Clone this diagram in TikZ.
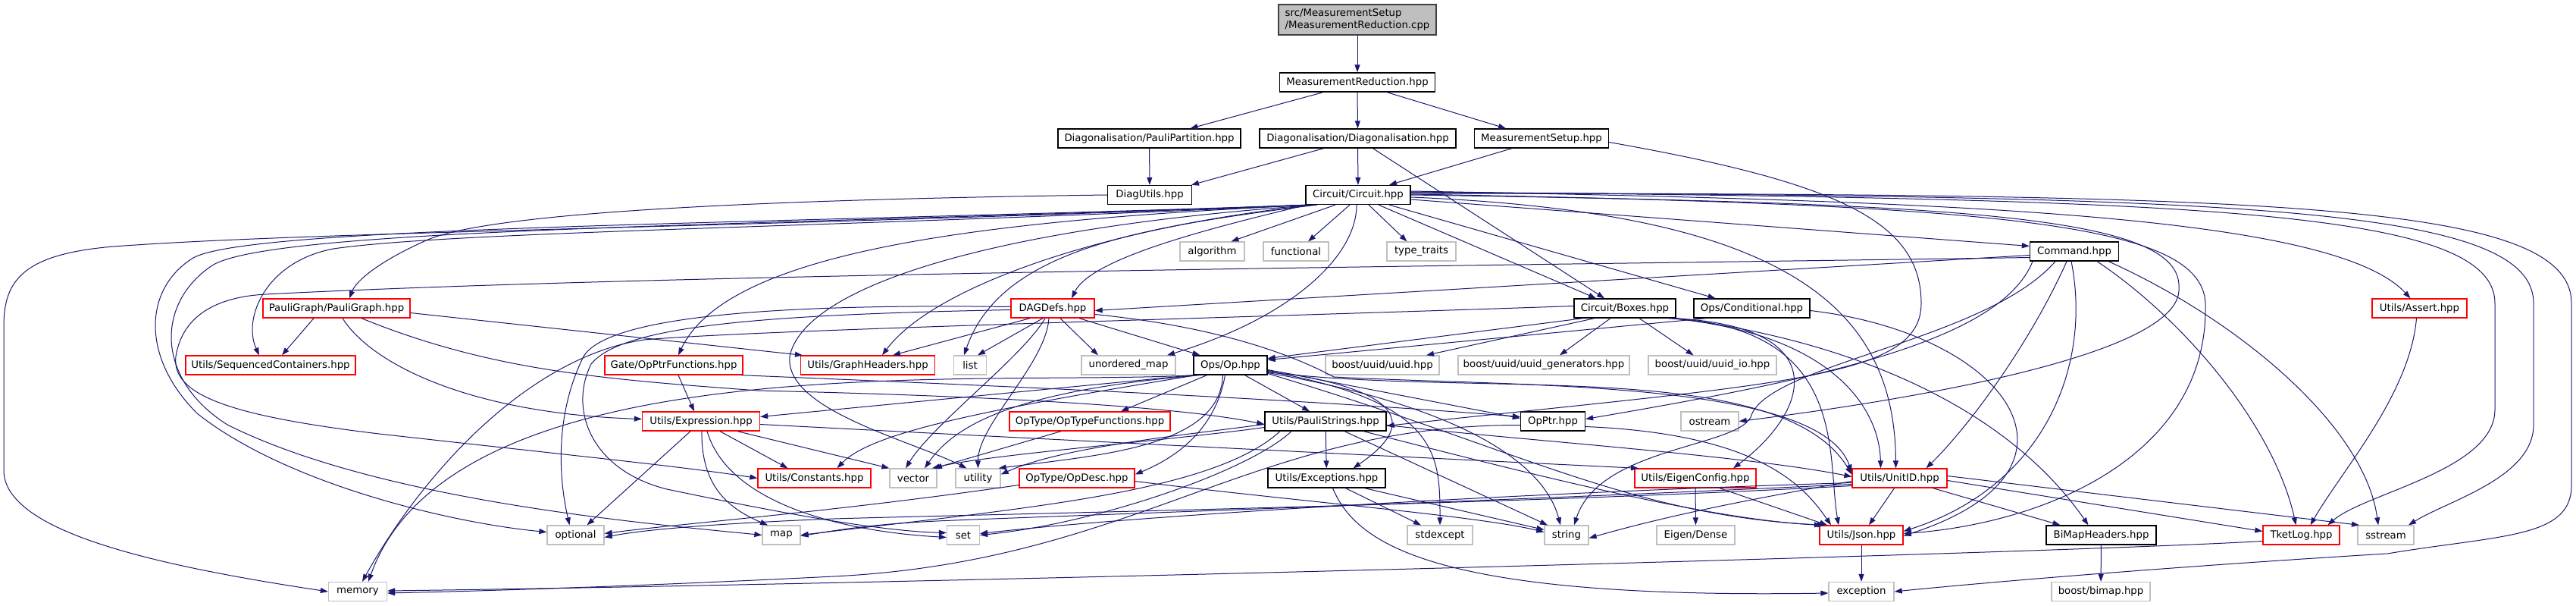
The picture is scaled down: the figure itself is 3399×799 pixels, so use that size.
\documentclass[tikz,border=0pt]{standalone}
\usepackage{fontspec}
\setmainfont{DejaVu Sans}
\usetikzlibrary{arrows.meta}
\definecolor{edgec}{HTML}{191970}
\definecolor{gryb}{HTML}{BFBFBF}
\definecolor{rootb}{HTML}{404040}
\definecolor{redb}{HTML}{FF0000}
\tikzset{
 box/.style={rectangle, inner sep=0pt, minimum height=25pt, font=\fontsize{13.3}{16}\selectfont, line width=1.3pt},
 nb/.style={box, draw=black},
 nr/.style={box, draw=redb},
 ng/.style={box, draw=gryb},
 rootbox/.style={box, draw=rootb, fill=gryb, minimum height=40pt, align=left},
 dep/.style={draw=edgec, line width=1pt, -{Triangle[length=10pt,width=7pt]}},
}
\begin{document}
\begin{tikzpicture}[x=1pt,y=-1pt]
\useasboundingbox (0,0) rectangle (3399,799);
\fill[white] (0,0) rectangle (3399,799);
% ---------- nodes ----------
\node[rootbox, minimum width=208pt] (root) at (1791,26) {src/MeasurementSetup\\/MeasurementReduction.cpp};
\node[nb, minimum width=205pt] (MR) at (1791,108.5) {MeasurementReduction.hpp};
\node[nb, minimum width=241pt] (PP) at (1516.5,182.5) {Diagonalisation/PauliPartition.hpp};
\node[nb, minimum width=259pt] (Diag) at (1791.5,182.5) {Diagonalisation/Diagonalisation.hpp};
\node[nb, minimum width=177pt] (MS) at (2034,182.5) {MeasurementSetup.hpp};
\node[nb, minimum width=111pt] (DU) at (1517,257) {DiagUtils.hpp};
\node[nb, minimum width=138pt] (C) at (1792,257) {Circuit/Circuit.hpp};
\node[ng, minimum width=85pt] (algorithm) at (1599.5,331.5) {algorithm};
\node[ng, minimum width=86pt] (functional) at (1710,331.5) {functional};
\node[ng, minimum width=91pt] (typetraits) at (1875.5,331.5) {type\_traits};
\node[nb, minimum width=117pt] (Cmd) at (2737,331.5) {Command.hpp};
\node[nr, minimum width=110pt] (DAG) at (1389,406.5) {DAGDefs.hpp};
\node[nr, minimum width=194pt] (PG) at (444,406.5) {PauliGraph/PauliGraph.hpp};
\node[nb, minimum width=134pt] (Boxes) at (2144,406.5) {Circuit/Boxes.hpp};
\node[nb, minimum width=153pt] (Cond) at (2311.5,406.5) {Ops/Conditional.hpp};
\node[nr, minimum width=125pt] (Assert) at (3192.5,406.5) {Utils/Assert.hpp};
\node[nr, minimum width=224pt] (SeqCont) at (357,481.5) {Utils/SequencedContainers.hpp};
\node[nr, minimum width=182pt] (OpPF) at (889,481.5) {Gate/OpPtrFunctions.hpp};
\node[nr, minimum width=177pt] (GH) at (1145,481.5) {Utils/GraphHeaders.hpp};
\node[ng, minimum width=43pt] (list) at (1280,481.5) {list};
\node[ng, minimum width=124pt] (umap) at (1489,481.5) {unordered\_map};
\node[nb, minimum width=97pt] (Op) at (1623.5,481.5) {Ops/Op.hpp};
\node[ng, minimum width=150pt] (uuid) at (1824,481.5) {boost/uuid/uuid.hpp};
\node[ng, minimum width=226pt] (uuidgen) at (2037,481.5) {boost/uuid/uuid\_generators.hpp};
\node[ng, minimum width=169pt] (uuidio) at (2259.5,481.5) {boost/uuid/uuid\_io.hpp};
\node[nr, minimum width=155pt] (Expr) at (925,555.5) {Utils/Expression.hpp};
\node[nr, minimum width=212pt] (OTF) at (1438,555.5) {OpType/OpTypeFunctions.hpp};
\node[nb, minimum width=160pt] (PS) at (1749,555.5) {Utils/PauliStrings.hpp};
\node[nb, minimum width=85pt] (OpPtr) at (2049,555.5) {OpPtr.hpp};
\node[ng, minimum width=76pt] (ostream) at (2256,555.5) {ostream};
\node[nr, minimum width=149pt] (Constants) at (1074.5,630.5) {Utils/Constants.hpp};
\node[ng, minimum width=62pt] (vector) at (1205,630.5) {vector};
\node[ng, minimum width=59pt] (utility) at (1290.5,630.5) {utility};
\node[nr, minimum width=152pt] (OpDesc) at (1421,630.5) {OpType/OpDesc.hpp};
\node[nb, minimum width=155pt] (Exc) at (1750.5,630.5) {Utils/Exceptions.hpp};
\node[nr, minimum width=160pt] (EC) at (2237,630.5) {Utils/EigenConfig.hpp};
\node[nr, minimum width=125pt] (UnitID) at (2506.5,630.5) {Utils/UnitID.hpp};
\node[ng, minimum width=75pt] (optional) at (759.5,705.5) {optional};
\node[ng, minimum width=50pt] (map) at (1031,705.5) {map};
\node[ng, minimum width=43pt] (set) at (1271,705.5) {set};
\node[ng, minimum width=86pt] (stdexcept) at (1900,705.5) {stdexcept};
\node[ng, minimum width=58pt] (string) at (2067,705.5) {string};
\node[ng, minimum width=103pt] (EigenDense) at (2237.5,705.5) {Eigen/Dense};
\node[nr, minimum width=110pt] (Json) at (2456,705.5) {Utils/Json.hpp};
\node[nb, minimum width=145pt] (BiMap) at (2772.5,705.5) {BiMapHeaders.hpp};
\node[nr, minimum width=101pt] (TketLog) at (3036.5,705.5) {TketLog.hpp};
\node[ng, minimum width=74pt] (sstream) at (3148,705.5) {sstream};
\node[ng, minimum width=77pt] (memory) at (472,780) {memory};
\node[ng, minimum width=86pt] (exception) at (2456,780) {exception};
\node[ng, minimum width=130pt] (bimap) at (2772,780) {boost/bimap.hpp};
% ---------- top ----------
\draw[dep] (root) -- (MR);
\draw[dep] ([xshift=-45]MR.south) -- ([xshift=54]PP.north);
\draw[dep] (MR) -- (Diag);
\draw[dep] ([xshift=39]MR.south) -- ([xshift=-47]MS.north);
\draw[dep] (PP) -- (DU);
\draw[dep] ([xshift=-45]Diag.south) -- ([xshift=55]DU.north);
\draw[dep] (Diag) -- (C);
\draw[dep] ([xshift=20]Diag.south) -- ([xshift=-27]Boxes.north);
\draw[dep] ([xshift=-39]MS.south) -- ([xshift=41]C.north);
\draw[dep] ([yshift=-5]MS.east) .. controls (2420,240) and (2535,290) .. (2535,400) .. controls (2535,500) and (2350,505) .. ([yshift=-6]PS.east);
\draw[dep] (DU.west) .. controls (1100,262) and (650,275) .. (560,318) .. controls (500,345) and (470,370) .. ([xshift=17]PG.north);
% ---------- Circuit ----------
\draw[dep] ([xshift=-30]C.south) -- ([xshift=25]algorithm.north);
\draw[dep] ([xshift=-11]C.south) -- ([xshift=16]functional.north);
\draw[dep] ([xshift=14]C.south) -- ([xshift=-19]typetraits.north);
\draw[dep] ([xshift=-2]C.south) .. controls (1790,340) and (1700,420) .. ([xshift=51]umap.north);
\draw[dep] ([xshift=-68]C.south) .. controls (1600,300) and (1440,340) .. ([xshift=25]DAG.north);
\draw[dep] ([xshift=27]C.south) -- ([xshift=-38]Boxes.north);
\draw[dep] ([xshift=41]C.south) -- ([xshift=-48]Cond.north);
\draw[dep] ([yshift=-6]C.east) -- ([yshift=7]Cmd.west);
\draw[dep] ([yshift=5]C.east) .. controls (2600,265) and (3080,285) .. ([xshift=-12]Assert.north);
\draw[dep] ([yshift=4]C.east) .. controls (2900,262) and (3292,275) .. (3292,400) -- (3292,540) .. controls (3292,620) and (3120,650) .. ([xshift=35]TketLog.north);
\draw[dep] ([yshift=3]C.east) .. controls (2950,258) and (3343,270) .. (3343,400) -- (3343,560) .. controls (3343,630) and (3230,660) .. ([xshift=30]sstream.north);
\draw[dep] ([yshift=2]C.east) .. controls (3000,255) and (3393,265) .. (3393,400) -- (3393,640) .. controls (3393,710) and (3300,705) .. (3150,730) .. controls (2900,745) and (2650,765) .. (exception.east);
\draw[dep] ([yshift=-3]C.east) .. controls (2350,280) and (2500,400) .. ([xshift=-5]UnitID.north);
\draw[dep] ([yshift=1]C.east) .. controls (2650,270) and (2905,295) .. (2910,400) .. controls (2915,600) and (2700,690) .. ([yshift=2]Json.east);
\draw[dep] (C.east) .. controls (2600,268) and (2880,285) .. (2875,380) .. controls (2880,470) and (2500,530) .. (ostream.east);
\draw[dep] ([xshift=2]C.south west) .. controls (1000,300) and (420,305) .. (150,325) .. controls (30,335) and (5,370) .. (5,430) -- (5,620) .. controls (5,700) and (200,745) .. (memory.west);
\draw[dep] ([xshift=4]C.south west) .. controls (1000,296) and (330,298) .. (255,340) .. controls (190,380) and (185,470) .. (260,545) .. controls (380,640) and (600,690) .. ([yshift=4]optional.west);
\draw[dep] ([xshift=6]C.south west) .. controls (1100,300) and (600,305) .. (440,328) .. controls (350,345) and (320,420) .. ([xshift=-15]SeqCont.north);
\draw[dep] ([xshift=8]C.south west) .. controls (1000,298) and (360,300) .. (280,350) .. controls (205,400) and (205,500) .. (300,560) .. controls (500,660) and (850,690) .. (map.west);
\draw[dep] ([xshift=10]C.south west) .. controls (1300,290) and (960,330) .. ([xshift=6]OpPF.north);
\draw[dep] ([xshift=12]C.south west) .. controls (1450,300) and (1230,380) .. ([xshift=19]GH.north);
\draw[dep] ([xshift=14]C.south west) .. controls (1500,300) and (1320,330) .. ([xshift=-8]list.north);
\draw[dep] ([xshift=16]C.south west) .. controls (1300,300) and (1060,380) .. (1042,470) .. controls (1035,540) and (1200,580) .. ([xshift=-15]utility.north);
% ---------- Command ----------
\draw[dep] ([yshift=-5]Cmd.west) -- ([yshift=-3]DAG.east);
\draw[dep] ([yshift=-8]Cmd.west) .. controls (2000,350) and (900,360) .. (350,388) .. controls (280,392) and (240,420) .. (232,470) .. controls (226,520) and (300,548) .. (500,572) .. controls (750,600) and (900,615) .. (Constants.west);
\draw[dep] ([xshift=-55]Cmd.south) .. controls (2640,450) and (2400,500) .. ([yshift=3]OpPtr.east);
\draw[dep] ([xshift=-10]Cmd.south) .. controls (2680,450) and (2600,560) .. ([xshift=35]UnitID.north);
\draw[dep] ([xshift=-4]Cmd.south) .. controls (2760,480) and (2700,640) .. ([yshift=5]Json.east);
\draw[dep] ([xshift=-25]Cmd.south) .. controls (2620,450) and (2330,480) .. (2310,550) .. controls (2290,590) and (2110,590) .. ([xshift=10]string.north);
\draw[dep] ([xshift=30]Cmd.south) .. controls (2880,420) and (3000,560) .. ([xshift=-7]TketLog.north);
\draw[dep] ([xshift=45]Cmd.south) .. controls (2950,420) and (3120,560) .. ([xshift=-10]sstream.north);
% ---------- DAGDefs ----------
\draw[dep] ([xshift=-30]DAG.south) -- ([xshift=33]GH.north);
\draw[dep] ([xshift=-13]DAG.south) -- ([xshift=10]list.north);
\draw[dep] ([xshift=-10]DAG.south) .. controls (1350,470) and (1230,560) .. ([xshift=-10]vector.north);
\draw[dep] ([xshift=-5]DAG.south) .. controls (1380,480) and (1290,560) .. (utility.north);
\draw[dep] ([xshift=10]DAG.south) -- ([xshift=-40]umap.north);
\draw[dep] ([xshift=35]DAG.south) -- ([xshift=-40]Op.north);
\draw[dep] ([yshift=-8]DAG.east) .. controls (1600,430) and (1700,465) .. (1760,497) .. controls (2000,510) and (2400,500) .. ([yshift=8]UnitID.west);
\draw[dep] ([yshift=2]DAG.west) .. controls (1000,400) and (800,420) .. (770,470) .. controls (735,540) and (735,620) .. ([xshift=-8]optional.north);
\draw[dep] ([yshift=-2]DAG.west) .. controls (1000,415) and (820,430) .. (780,480) .. controls (750,540) and (780,620) .. (880,645) .. controls (1000,670) and (1150,700) .. ([yshift=3]set.west);
% ---------- Boxes / Conditional / Assert ----------
\draw[dep] ([xshift=-55]Boxes.south) -- ([yshift=9]Op.east);
\draw[dep] ([xshift=-40]Boxes.south) -- ([xshift=58]uuid.north);
\draw[dep] ([xshift=-19]Boxes.south) -- ([xshift=21]uuidgen.north);
\draw[dep] ([xshift=19]Boxes.south) -- ([xshift=-25]uuidio.north);
\draw[dep] ([xshift=-12]Boxes.south east) .. controls (2440,430) and (2410,600) .. ([xshift=-30]Json.north);
\draw[dep] ([xshift=-8]Boxes.south east) .. controls (2420,440) and (2480,540) .. ([xshift=-25]UnitID.north);
\draw[dep] ([xshift=-4]Boxes.south east) .. controls (2420,430) and (2390,540) .. ([xshift=50]EC.north);
\draw[dep] (Boxes.south east) .. controls (2450,450) and (2650,540) .. ([xshift=-17]BiMap.north);
\draw[dep] ([yshift=3]Boxes.west) .. controls (1600,420) and (1000,435) .. (850,448) .. controls (700,470) and (560,620) .. ([xshift=6]memory.north);
\draw[dep] ([xshift=-60]Cond.south) -- ([yshift=7]Op.east);
\draw[dep] ([yshift=-3]Cond.east) .. controls (2650,440) and (2780,620) .. ([yshift=-1]Json.east);
\draw[dep] ([xshift=-4]Assert.south) .. controls (3180,520) and (3090,620) .. ([xshift=12]TketLog.north);
% ---------- PauliGraph / OpPtrFunctions ----------
\draw[dep] ([xshift=-30]PG.south) -- ([xshift=15]SeqCont.north);
\draw[dep] ([yshift=-6]PG.east) -- ([xshift=-86]GH.north);
\draw[dep] ([xshift=8]PG.south) .. controls (490,480) and (620,545) .. ([yshift=3]Expr.west);
\draw[dep] ([xshift=33]PG.south) .. controls (650,490) and (800,500) .. (1000,515) .. controls (1300,522) and (1550,535) .. ([yshift=-4]PS.west);
\draw[dep] ([xshift=6]OpPF.south) -- ([xshift=-9]Expr.north);
\draw[dep] ([xshift=-3]OpPF.south east) .. controls (1300,508) and (1700,525) .. ([yshift=6]OpPtr.west);
% ---------- Op ----------
\draw[dep] ([xshift=-31]Op.south) -- ([xshift=41]OTF.north);
\draw[dep] ([xshift=19]Op.south) -- ([xshift=-21]PS.north);
\draw[dep] ([xshift=-7]Op.south) .. controls (1605,560) and (1560,600) .. ([yshift=5]OpDesc.east);
\draw[dep] ([yshift=-7]Op.east) .. controls (1900,520) and (1840,580) .. ([xshift=35]Exc.north);
\draw[dep] ([yshift=-8]Op.east) .. controls (1900,530) and (1900,600) .. (stdexcept.north);
\draw[dep] ([yshift=-10]Op.east) .. controls (1950,540) and (2040,620) .. ([xshift=-8]string.north);
\draw[dep] ([yshift=-6]Op.east) -- ([yshift=4]OpPtr.west);
\draw[dep] ([yshift=-9]Op.east) .. controls (1950,525) and (2350,470) .. ([yshift=5]UnitID.west);
\draw[dep] ([yshift=-11]Op.east) .. controls (2000,590) and (2150,680) .. ([xshift=-48]Json.north);
\draw[dep] (Op.south west) -- ([yshift=6]Expr.east);
\draw[dep] ([xshift=-45]Op.south) .. controls (1300,540) and (1150,570) .. ([xshift=30]Constants.north);
\draw[dep] ([xshift=-40]Op.south) .. controls (1340,515) and (1260,560) .. ([xshift=15]vector.north);
\draw[dep] ([xshift=-10]Op.south) .. controls (1610,590) and (1450,600) .. ([xshift=-3]utility.north east);
\draw[dep] ([xshift=-47]Op.south) .. controls (1300,510) and (600,450) .. ([xshift=14]memory.north);
% ---------- Expression / OpTypeFunctions ----------
\draw[dep] ([xshift=-14]Expr.south) -- ([xshift=15]optional.north);
\draw[dep] ([xshift=1]Expr.south) .. controls (925,640) and (960,670) .. ([xshift=-18]map.north);
\draw[dep] ([xshift=8]Expr.south) .. controls (960,660) and (1100,700) .. ([yshift=-3]set.west);
\draw[dep] ([xshift=25]Expr.south) -- ([xshift=-35]Constants.north);
\draw[dep] ([xshift=48]Expr.south) -- (vector.north west);
\draw[dep] ([yshift=-4]Expr.east) .. controls (1300,575) and (1800,600) .. ([xshift=-75]EC.north);
\draw[dep] ([xshift=-38]OTF.south) -- ([xshift=28]vector.north);
% ---------- PauliStrings ----------
\draw[dep] (PS) -- (Exc);
\draw[dep] ([xshift=25]PS.south) -- ([xshift=-25]string.north);
\draw[dep] ([xshift=50]PS.south) .. controls (2000,620) and (2250,685) .. ([xshift=-52]Json.north);
\draw[dep] ([yshift=-5]PS.east) .. controls (2000,580) and (2300,600) .. ([yshift=2]UnitID.west);
\draw[dep] ([yshift=-4]PS.west) .. controls (1550,575) and (1400,590) .. ([yshift=5]utility.east);
\draw[dep] ([yshift=-8]PS.west) .. controls (1550,580) and (1300,600) .. ([xshift=25]vector.north);
\draw[dep] ([xshift=-45]PS.south) .. controls (1650,620) and (1450,690) .. (set.east);
\draw[dep] ([xshift=-60]PS.south) .. controls (1600,650) and (1350,670) .. (map.east);
% ---------- OpPtr / Exceptions / OpDesc ----------
\draw[dep] ([yshift=-7]OpPtr.east) .. controls (2320,572) and (2380,640) .. ([xshift=-40]Json.north);
\draw[dep] ([yshift=-5]OpPtr.west) .. controls (1650,560) and (1500,740) .. (1100,760) .. controls (800,775) and (600,780) .. ([yshift=-2]memory.east);
\draw[dep] ([xshift=25]Exc.south) -- ([xshift=-25]stdexcept.north);
\draw[dep] ([xshift=50]Exc.south) -- ([yshift=7]string.west);
\draw[dep] ([xshift=8]Exc.south) .. controls (1790,720) and (1900,790) .. ([yshift=-2]exception.west);
\draw[dep] ([yshift=-9]OpDesc.west) .. controls (1100,675) and (900,690) .. ([yshift=2]optional.east);
\draw[dep] ([yshift=-4]OpDesc.east) .. controls (1700,660) and (1950,680) .. ([yshift=4]string.west);
% ---------- UnitID / EigenConfig ----------
\draw[dep] ([xshift=-7]UnitID.south) -- ([xshift=10]Json.north);
\draw[dep] ([xshift=44]UnitID.south) -- ([xshift=-54]BiMap.north);
\draw[dep] ([yshift=-3]UnitID.east) -- ([yshift=5]TketLog.west);
\draw[dep] ([yshift=3]UnitID.east) -- ([xshift=-35]sstream.north);
\draw[dep] ([yshift=-4]UnitID.west) .. controls (2300,660) and (2200,680) .. ([yshift=-4]string.east);
\draw[dep] ([yshift=-6]UnitID.west) .. controls (2000,650) and (1500,680) .. ([yshift=2]set.east);
\draw[dep] ([yshift=-8]UnitID.west) .. controls (2000,660) and (1400,680) .. (1260,686) .. controls (1150,690) and (1100,700) .. ([yshift=-1]map.east);
\draw[dep] ([yshift=-10]UnitID.west) .. controls (2000,665) and (1300,678) .. (1100,684) .. controls (950,690) and (850,698) .. ([yshift=-3]optional.east);
\draw[dep] (EC) -- (EigenDense);
\draw[dep] ([xshift=32]EC.south) -- ([xshift=-45]Json.north);
% ---------- bottom ----------
\draw[dep] (Json) -- (exception);
\draw[dep] (BiMap) -- (bimap);
\draw[dep] ([yshift=-8]TketLog.west) .. controls (2700,730) and (1200,770) .. ([yshift=1]memory.east);
\end{tikzpicture}
\end{document}
